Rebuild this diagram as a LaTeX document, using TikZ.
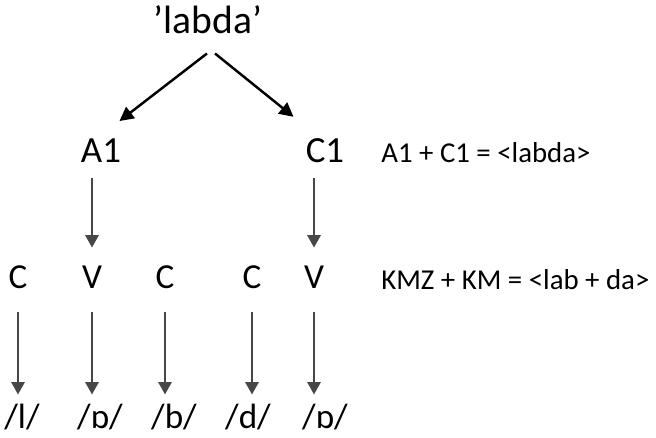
\documentclass[tikz,border=0pt]{standalone}
\usepackage{fontspec}
\setmainfont{Carlito}
\usetikzlibrary{arrows.meta}

\begin{document}
\begin{tikzpicture}[x=0.02cm, y=-0.02cm,
    top/.style={anchor=base, inner sep=0pt, font=\fontsize{22.5}{26}\selectfont},
    big/.style={anchor=base, inner sep=0pt, font=\fontsize{21}{25}\selectfont},
    seg/.style={anchor=base, inner sep=0pt, font=\fontsize{20}{24}\selectfont},
    note/.style={anchor=base west, inner sep=0pt, font=\fontsize{16.4}{20}\selectfont},
    split/.style={draw=black, line width=1.4pt, -{Triangle[length=8pt, width=8pt]}},
    down/.style={draw=black!72, line width=1.2pt, -{Triangle[length=7pt, width=7.5pt]}}]
    \useasboundingbox (0,0) rectangle (656,437);
    % word and its two parts
    \node[top] (word) at (208,33) {'labda'};
    \node[big] (a1) at (101,162) {A1};
    \node[big] (c1) at (325,162) {C1};
    \draw[split] ([xshift=-0.6pt, yshift=-11.3pt]word.south) -- ([xshift=-1.1pt, yshift=9.6pt]a1.north east);
    \draw[split] ([xshift=4pt, yshift=-11.3pt]word.south) -- ([xshift=-6.8pt, yshift=11.9pt]c1.north west);
    % segments
    \node[seg] (s1) at (18,288) {C};
    \node[seg] (s2) at (92,288) {V};
    \node[seg] (s3) at (165,288) {C};
    \node[seg] (s4) at (252,288) {C};
    \node[seg] (s5) at (314,288) {V};
    \draw[down, shorten <=9pt, shorten >=10pt] (a1.south -| s2.north) -- (s2.north);
    \draw[down, shorten <=9pt, shorten >=10pt] (c1.south -| s5.north) -- (s5.north);
    % sounds
    \node[seg] (p1) at (22,428) {/l/};
    \node[seg] (p2) at (100,428) {/ɒ/};
    \node[seg] (p3) at (174,428) {/b/};
    \node[seg] (p4) at (248,428) {/d/};
    \node[seg] (p5) at (325,428) {/ɒ/};
    \foreach \i in {1,...,5}
      \draw[down, shorten <=13.6pt, shorten >=5pt] (s\i.south) -- (s\i.south |- p\i.north);
    % notes
    \node[note] (n1) at (381,162) {A1 + C1 = <labda>};
    \node[note] (n2) at (381,289) {KMZ + KM = <lab + da>};
\end{tikzpicture}
\end{document}
